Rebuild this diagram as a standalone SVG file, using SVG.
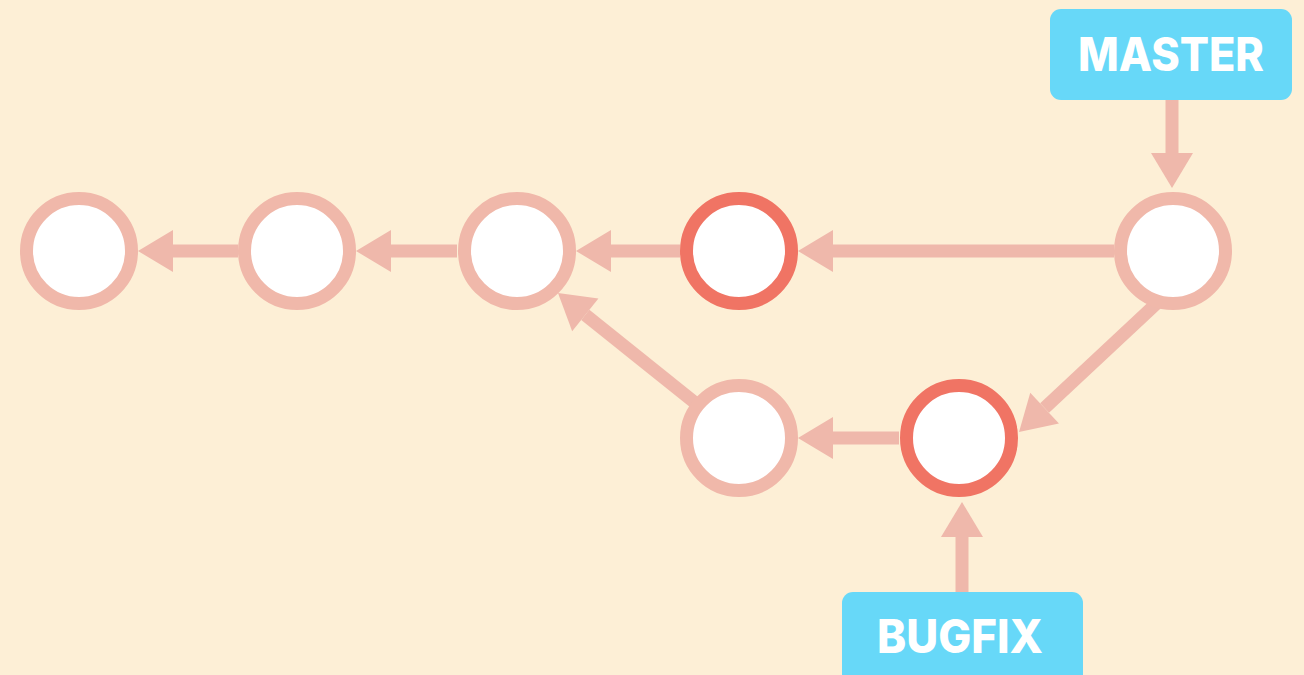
<svg xmlns="http://www.w3.org/2000/svg" width="1304" height="675" viewBox="0 0 1304 675">
  <defs>
    <style>
      .bg { fill: #FDEFD6; }
      .commit { fill: #FFFFFF; stroke: #F0B8AA; stroke-width: 13; }
      .commit.hl { stroke: #F07464; }
      .edge { stroke: #EFB8AB; stroke-width: 13; fill: none; marker-end: url(#arrow); }
      .label { fill: #67D8F8; }
      .label-text { fill: #FFFFFF; font-family: Inter, "Open Sans", "Liberation Sans", sans-serif; font-weight: 800; font-size: 46px; text-anchor: middle; }
    </style>
    <marker id="arrow" markerUnits="userSpaceOnUse" markerWidth="40" markerHeight="44" viewBox="0 -22 36 44" refX="0" refY="0" orient="auto">
      <path d="M0,-21 L35,0 L0,21 Z" fill="#EFB8AB"/>
    </marker>
  </defs>
  <rect class="bg" x="0" y="0" width="1304" height="675"/>
  <g id="connectors">
    <line class="edge" x1="238" y1="251" x2="173" y2="251"/>
    <line class="edge" x1="457" y1="251" x2="391" y2="251"/>
    <line class="edge" x1="680" y1="251" x2="611" y2="251"/>
    <line class="edge" x1="1114" y1="251" x2="833" y2="251"/>
    <line class="edge" x1="899" y1="438" x2="833" y2="438"/>
    <line class="edge" x1="739" y1="438" x2="585.3" y2="314.9"/>
    <line class="edge" x1="1157" y1="303" x2="1044.6" y2="408.1"/>
    <line class="edge" x1="1172" y1="100" x2="1172" y2="153"/>
    <line class="edge" x1="962" y1="592" x2="962" y2="537"/>
  </g>
  <g id="c1"><circle class="commit" cx="79" cy="251" r="52.5"/></g>
  <g id="c2"><circle class="commit" cx="297" cy="251" r="52.5"/></g>
  <g id="c3"><circle class="commit" cx="517" cy="251" r="52.5"/></g>
  <g id="c4"><circle class="commit hl" cx="739" cy="251" r="52.5"/></g>
  <g id="c5"><circle class="commit" cx="1173" cy="251" r="52.5"/></g>
  <g id="b1"><circle class="commit" cx="739" cy="438" r="52.5"/></g>
  <g id="b2"><circle class="commit hl" cx="959" cy="438" r="52.5"/></g>
  <g id="master">
    <rect class="label" x="1050" y="9" width="242" height="91" rx="11"/>
    <text class="label-text" x="1171" y="71" textLength="186" lengthAdjust="spacingAndGlyphs">MASTER</text>
  </g>
  <g id="bugfix">
    <rect class="label" x="842" y="592" width="241" height="100" rx="11"/>
    <text class="label-text" x="960" y="653" textLength="166" lengthAdjust="spacingAndGlyphs">BUGFIX</text>
  </g>
</svg>
